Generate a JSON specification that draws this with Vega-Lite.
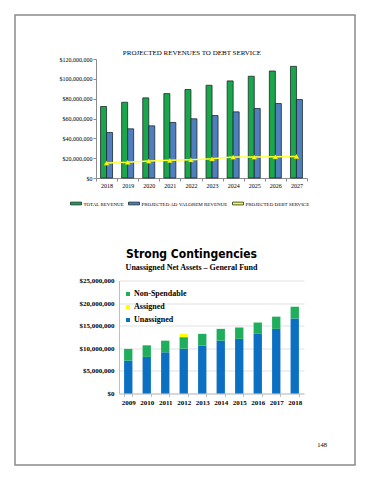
{
  "$schema": "https://vega.github.io/schema/vega-lite/v6.json",
  "padding": {"left": 14, "top": 14, "right": 0, "bottom": 0},
  "background": "white",
  "spacing": -418,
  "align": "none",
  "resolve": {"scale": {"color": "independent"}, "legend": {"color": "independent"}},
  "config": {
    "font": "Liberation Serif",
    "view": {"stroke": null},
    "axis": {"labelColor": "#000000"},
    "legend": {"labelColor": "#000000"},
    "title": {"color": "#000000"}
  },
  "vconcat": [
    {
      "width": 340,
      "height": 450,
      "view": {"stroke": "#8a8a8a", "strokeWidth": 1.5},
      "title": {"text": "148", "orient": "bottom", "anchor": "end", "frame": "group", "offset": -23, "dx": -28, "fontSize": 6.5, "fontWeight": "normal", "font": "Liberation Serif", "color": "#000000"},
      "data": {"values": [{"t": ""}]},
      "mark": {"type": "text"},
      "encoding": {"text": {"field": "t", "type": "nominal"}}
    },
    {
      "spacing": 40.5,
      "resolve": {"scale": {"color": "independent"}, "legend": {"color": "independent"}},
      "vconcat": [
        {
          "spacing": 0,
          "resolve": {"scale": {"color": "independent"}, "legend": {"color": "independent"}},
          "hconcat": [
            {
              "width": 44, "height": 1,
              "data": {"values": [{"t": ""}]},
              "mark": {"type": "text"},
              "encoding": {"text": {"field": "t", "type": "nominal"}}
            },
            {
              "width": 211,
              "height": 119,
              "title": {"text": "PROJECTED REVENUES TO DEBT SERVICE", "fontSize": 7, "fontWeight": "normal", "font": "Liberation Serif", "color": "#000000", "offset": 0.5, "frame": "group", "anchor": "middle", "dx": -9.5},
              "data": {"values": [
                {"year": "2018", "series": "TOTAL REVENUE", "value": 72100000},
                {"year": "2019", "series": "TOTAL REVENUE", "value": 76400000},
                {"year": "2020", "series": "TOTAL REVENUE", "value": 80800000},
                {"year": "2021", "series": "TOTAL REVENUE", "value": 85100000},
                {"year": "2022", "series": "TOTAL REVENUE", "value": 89200000},
                {"year": "2023", "series": "TOTAL REVENUE", "value": 93500000},
                {"year": "2024", "series": "TOTAL REVENUE", "value": 97900000},
                {"year": "2025", "series": "TOTAL REVENUE", "value": 102600000},
                {"year": "2026", "series": "TOTAL REVENUE", "value": 107900000},
                {"year": "2027", "series": "TOTAL REVENUE", "value": 112600000},
                {"year": "2018", "series": "PROJECTED AD VALOREM REVENUE", "value": 45900000},
                {"year": "2019", "series": "PROJECTED AD VALOREM REVENUE", "value": 49600000},
                {"year": "2020", "series": "PROJECTED AD VALOREM REVENUE", "value": 52600000},
                {"year": "2021", "series": "PROJECTED AD VALOREM REVENUE", "value": 56000000},
                {"year": "2022", "series": "PROJECTED AD VALOREM REVENUE", "value": 59700000},
                {"year": "2023", "series": "PROJECTED AD VALOREM REVENUE", "value": 63000000},
                {"year": "2024", "series": "PROJECTED AD VALOREM REVENUE", "value": 66700000},
                {"year": "2025", "series": "PROJECTED AD VALOREM REVENUE", "value": 70100000},
                {"year": "2026", "series": "PROJECTED AD VALOREM REVENUE", "value": 75100000},
                {"year": "2027", "series": "PROJECTED AD VALOREM REVENUE", "value": 79100000},
                {"year": "2018", "series": "PROJECTED DEBT SERVICE", "value": 15100000},
                {"year": "2019", "series": "PROJECTED DEBT SERVICE", "value": 15800000},
                {"year": "2020", "series": "PROJECTED DEBT SERVICE", "value": 17100000},
                {"year": "2021", "series": "PROJECTED DEBT SERVICE", "value": 17800000},
                {"year": "2022", "series": "PROJECTED DEBT SERVICE", "value": 18400000},
                {"year": "2023", "series": "PROJECTED DEBT SERVICE", "value": 19400000},
                {"year": "2024", "series": "PROJECTED DEBT SERVICE", "value": 21100000},
                {"year": "2025", "series": "PROJECTED DEBT SERVICE", "value": 21100000},
                {"year": "2026", "series": "PROJECTED DEBT SERVICE", "value": 21500000},
                {"year": "2027", "series": "PROJECTED DEBT SERVICE", "value": 21800000}
              ]},
              "encoding": {
                "x": {
                  "field": "year", "type": "ordinal",
                  "scale": {"paddingInner": 0, "paddingOuter": 0},
                  "axis": {"title": null, "labelAngle": 0, "labelFont": "Liberation Serif", "labelFontSize": 6, "tickBand": "extent", "domainColor": "#8c8c8c", "tickColor": "#8c8c8c", "tickSize": 3, "labelPadding": 1.5}
                },
                "y": {
                  "field": "value", "type": "quantitative",
                  "scale": {"domain": [0, 120000000]},
                  "axis": {"title": null, "values": [0, 20000000, 40000000, 60000000, 80000000, 100000000, 120000000], "format": "$,.0f", "labelFont": "Liberation Serif", "labelFontSize": 6, "labelOverlap": false, "labelFlush": false, "grid": false, "domainColor": "#8c8c8c", "tickColor": "#8c8c8c", "tickSize": 3, "labelPadding": 1}
                }
              },
              "layer": [
                {
                  "transform": [{"filter": "datum.series !== 'PROJECTED DEBT SERVICE'"}],
                  "mark": {"type": "bar", "stroke": "#1c2b2e", "strokeWidth": 0.8},
                  "encoding": {
                    "xOffset": {"field": "series", "type": "nominal", "sort": ["TOTAL REVENUE", "PROJECTED AD VALOREM REVENUE"], "scale": {"paddingInner": 0, "paddingOuter": 0.76}},
                    "color": {
                      "field": "series", "type": "nominal",
                      "scale": {"domain": ["TOTAL REVENUE", "PROJECTED AD VALOREM REVENUE", "PROJECTED DEBT SERVICE"], "range": ["#1aa64b", "#4f7fbf", "#ffff33"]},
                      "legend": {
                        "orient": "none", "legendX": -26, "legendY": 138.5, "direction": "horizontal", "title": null,
                        "labelFont": "Liberation Serif", "labelFontSize": 5, "labelLimit": 200, "labelOffset": 1.5, "columnPadding": 2,
                        "symbolType": "M-1,-0.25H1V0.25H-1Z", "symbolSize": 121, "symbolStrokeWidth": 0.8, "symbolStrokeColor": "#1c2b2e"
                      }
                    }
                  }
                },
                {
                  "transform": [{"filter": "datum.series === 'PROJECTED DEBT SERVICE'"}],
                  "mark": {"type": "line", "color": "#ffff44", "strokeWidth": 1.5, "point": {"shape": "triangle-up", "filled": true, "color": "#ffff00", "size": 28, "stroke": "#b5b500", "strokeWidth": 0.3}},
                  "encoding": {}
                }
              ]
            }
          ]
        },
        {
          "spacing": 0,
          "resolve": {"scale": {"color": "independent"}, "legend": {"color": "independent"}},
          "hconcat": [
            {
              "width": 64, "height": 1,
              "data": {"values": [{"t": ""}]},
              "mark": {"type": "text"},
              "encoding": {"text": {"field": "t", "type": "nominal"}}
            },
            {
              "width": 185,
              "height": 113,
              "title": {
                "text": "Strong Contingencies", "subtitle": "Unassigned Net Assets – General Fund",
                "font": "DejaVu Sans Condensed, DejaVu Sans, sans-serif", "fontSize": 12, "fontWeight": "bold", "color": "#000000",
                "subtitleFont": "Liberation Serif", "subtitleFontSize": 8, "subtitleFontWeight": "bold", "subtitleColor": "#000000", "subtitlePadding": 3,
                "offset": 3.5, "frame": "group", "anchor": "middle", "dx": -20
              },
              "data": {"values": [
                {"year": "2009", "category": "Unassigned", "value": 7280000},
                {"year": "2009", "category": "Non-Spendable", "value": 2580000},
                {"year": "2010", "category": "Unassigned", "value": 8100000},
                {"year": "2010", "category": "Non-Spendable", "value": 2560000},
                {"year": "2011", "category": "Unassigned", "value": 9120000},
                {"year": "2011", "category": "Non-Spendable", "value": 2570000},
                {"year": "2012", "category": "Unassigned", "value": 9930000},
                {"year": "2012", "category": "Assigned", "value": 730000},
                {"year": "2012", "category": "Non-Spendable", "value": 2510000},
                {"year": "2013", "category": "Unassigned", "value": 10600000},
                {"year": "2013", "category": "Non-Spendable", "value": 2600000},
                {"year": "2014", "category": "Unassigned", "value": 11700000},
                {"year": "2014", "category": "Non-Spendable", "value": 2600000},
                {"year": "2015", "category": "Unassigned", "value": 12100000},
                {"year": "2015", "category": "Non-Spendable", "value": 2500000},
                {"year": "2016", "category": "Unassigned", "value": 13200000},
                {"year": "2016", "category": "Non-Spendable", "value": 2500000},
                {"year": "2017", "category": "Unassigned", "value": 14300000},
                {"year": "2017", "category": "Non-Spendable", "value": 2700000},
                {"year": "2018", "category": "Unassigned", "value": 16600000},
                {"year": "2018", "category": "Non-Spendable", "value": 2600000}
              ]},
              "mark": {"type": "bar"},
              "encoding": {
                "x": {
                  "field": "year", "type": "ordinal",
                  "scale": {"paddingInner": 0.55, "paddingOuter": 0.275},
                  "axis": {"title": null, "labelAngle": 0, "labelFont": "Liberation Serif", "labelFontSize": 7, "labelFontWeight": "bold", "tickBand": "extent", "domainColor": "#bfbfbf", "tickColor": "#bfbfbf", "tickSize": 3, "labelPadding": 2}
                },
                "y": {
                  "field": "value", "type": "quantitative", "stack": "zero",
                  "scale": {"domain": [0, 25000000]},
                  "axis": {"title": null, "values": [0, 5000000, 10000000, 15000000, 20000000, 25000000], "format": "$,.0f", "labelFont": "Liberation Serif", "labelFontSize": 7, "labelFontWeight": "bold", "labelOverlap": false, "grid": true, "gridColor": "#d9d9d9", "gridWidth": 0.8, "domainColor": "#bfbfbf", "ticks": false, "labelPadding": 5}
                },
                "color": {
                  "field": "category", "type": "nominal",
                  "sort": ["Unassigned", "Assigned", "Non-Spendable"],
                  "scale": {"range": ["#0b6fc2", "#ffff00", "#1fae5b"]},
                  "legend": {
                    "values": ["Non-Spendable", "Assigned", "Unassigned"],
                    "orient": "none", "legendX": 5, "legendY": 9.5, "title": null,
                    "labelFont": "Liberation Serif", "labelFontSize": 8, "labelFontWeight": "bold",
                    "symbolType": "square", "symbolSize": 16, "symbolStrokeWidth": 0, "labelOffset": 2, "rowPadding": 5
                  }
                }
              }
            }
          ]
        }
      ]
    }
  ]
}
